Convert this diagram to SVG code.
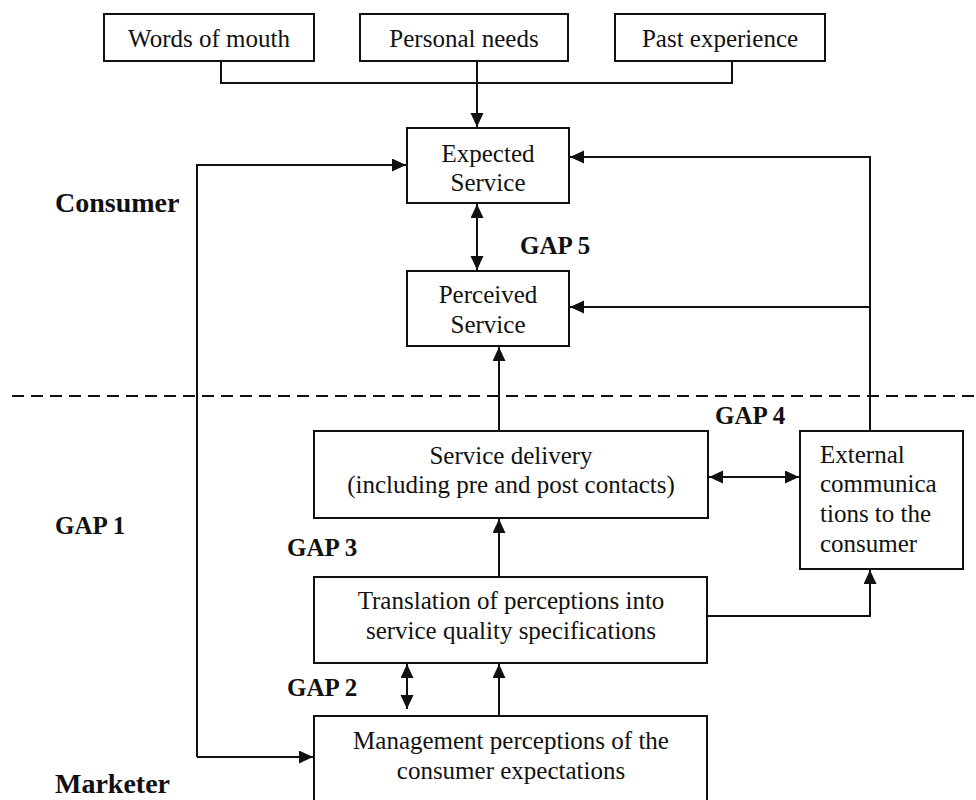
<svg xmlns="http://www.w3.org/2000/svg" width="976" height="800" viewBox="0 0 976 800">
  <defs>
    <marker id="arrow" markerUnits="userSpaceOnUse" markerWidth="16" markerHeight="14" refX="14" refY="6.5" orient="auto-start-reverse">
      <path d="M0,0 L14,6.5 L0,13 z" fill="#111"/>
    </marker>
    <style>
      .box { fill: #fff; stroke: #111; stroke-width: 2; }
      .line { fill: none; stroke: #111; stroke-width: 2; }
      .dash { fill: none; stroke: #111; stroke-width: 2; stroke-dasharray: 12 7; }
      .txt { font-family: "Liberation Serif", "Times New Roman", serif; font-size: 25px; fill: #111; text-anchor: middle; }
      .lbl { font-family: "Liberation Serif", "Times New Roman", serif; font-size: 25px; font-weight: bold; fill: #111; }
      .side { font-size: 28px; }
    </style>
  </defs>

  <rect width="976" height="800" fill="#fff"/>

  <!-- connectors -->
  <g id="connectors">
    <path class="line" d="M221,61 V83 H732 V61"/>
    <path class="line" d="M477,61 V127" marker-end="url(#arrow)"/>
    <path class="line" d="M477,204 V270" marker-start="url(#arrow)" marker-end="url(#arrow)"/>
    <path class="line" d="M197,757 V165 H406" marker-end="url(#arrow)"/>
    <path class="line" d="M197,757 H313" marker-end="url(#arrow)"/>
    <path class="line" d="M870,431 V157 H570" marker-end="url(#arrow)"/>
    <path class="line" d="M870,307 H570" marker-end="url(#arrow)"/>
    <path class="line" d="M499,431 V347" marker-end="url(#arrow)"/>
    <path class="line" d="M709,477 H799" marker-start="url(#arrow)" marker-end="url(#arrow)"/>
    <path class="line" d="M499,576 V519" marker-end="url(#arrow)"/>
    <path class="line" d="M499,715 V664" marker-end="url(#arrow)"/>
    <path class="line" d="M407,664 V709" marker-start="url(#arrow)" marker-end="url(#arrow)"/>
    <path class="line" d="M707,616 H870 V570" marker-end="url(#arrow)"/>
    <path class="dash" d="M12,396 H976"/>
  </g>

  <!-- boxes -->
  <g id="words-of-mouth">
    <rect class="box" x="104" y="14" width="210" height="47"/>
    <text class="txt" x="209" y="47">Words of mouth</text>
  </g>
  <g id="personal-needs">
    <rect class="box" x="360" y="14" width="208" height="47"/>
    <text class="txt" x="464" y="47">Personal needs</text>
  </g>
  <g id="past-experience">
    <rect class="box" x="615" y="14" width="210" height="47"/>
    <text class="txt" x="720" y="47">Past experience</text>
  </g>
  <g id="expected-service">
    <rect class="box" x="407" y="128" width="162" height="75"/>
    <text class="txt" x="488" y="162">Expected</text>
    <text class="txt" x="488" y="191">Service</text>
  </g>
  <g id="perceived-service">
    <rect class="box" x="407" y="271" width="162" height="75"/>
    <text class="txt" x="488" y="303">Perceived</text>
    <text class="txt" x="488" y="333">Service</text>
  </g>
  <g id="service-delivery">
    <rect class="box" x="314" y="431" width="394" height="87"/>
    <text class="txt" x="511" y="464">Service delivery</text>
    <text class="txt" x="511" y="493">(including pre and post contacts)</text>
  </g>
  <g id="external-communications">
    <rect class="box" x="800" y="431" width="163" height="138"/>
    <text class="txt" x="820" y="463" style="text-anchor:start">External</text>
    <text class="txt" x="820" y="492" style="text-anchor:start">communica</text>
    <text class="txt" x="820" y="522" style="text-anchor:start">tions to the</text>
    <text class="txt" x="820" y="552" style="text-anchor:start">consumer</text>
  </g>
  <g id="translation">
    <rect class="box" x="314" y="577" width="393" height="86"/>
    <text class="txt" x="511" y="609">Translation of perceptions into</text>
    <text class="txt" x="511" y="639">service quality specifications</text>
  </g>
  <g id="management-perceptions">
    <rect class="box" x="314" y="716" width="393" height="88"/>
    <text class="txt" x="511" y="749">Management perceptions of the</text>
    <text class="txt" x="511" y="779">consumer expectations</text>
  </g>

  <!-- side and gap labels -->
  <g id="labels">
    <text class="lbl side" x="55" y="212">Consumer</text>
    <text class="lbl" x="520" y="254">GAP 5</text>
    <text class="lbl" x="715" y="424">GAP 4</text>
    <text class="lbl" x="55" y="534">GAP 1</text>
    <text class="lbl" x="287" y="556">GAP 3</text>
    <text class="lbl" x="287" y="696">GAP 2</text>
    <text class="lbl side" x="55" y="793">Marketer</text>
  </g>
</svg>
